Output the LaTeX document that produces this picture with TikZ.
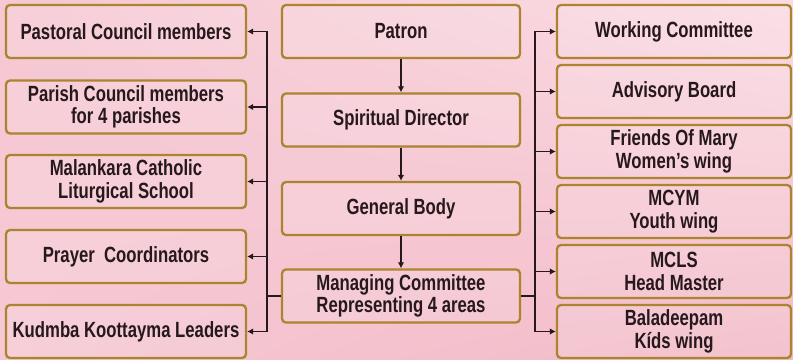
\documentclass[tikz,border=0pt]{standalone}
\usepackage{fontspec}
\usepackage{tikz}
\usetikzlibrary{arrows.meta,shadings}
\newfontfamily\boxfont{Liberation Sans Bold}[FakeStretch=0.76]
\definecolor{boxgold}{RGB}{172,132,48}
\definecolor{inkdark}{RGB}{38,24,28}
\definecolor{bgpinkA}{RGB}{242,186,199}
\definecolor{bgpinkB}{RGB}{251,220,228}
\definecolor{bgpinkC}{RGB}{245,200,211}

\begin{document}
\begin{tikzpicture}[x=1pt,y=-1pt,
    orgbox/.style={draw=boxgold, line width=2.3pt, rounded corners=4pt,
      fill=white, fill opacity=0.13, text opacity=1, text=inkdark,
      minimum height=53pt, inner sep=1pt, align=center,
      font=\boxfont\fontsize{22}{22.5}\selectfont},
    leftbox/.style={orgbox, minimum width=240pt},
    midbox/.style={orgbox, minimum width=238pt},
    rightbox/.style={orgbox, minimum width=234pt},
    arr/.style={draw=inkdark, line width=1.8pt, -{Latex[length=6pt,width=6.5pt]}},
    bus/.style={draw=inkdark, line width=1.8pt}]
% background
\shade[upper left=bgpinkC, upper right=bgpinkB, lower left=bgpinkC, lower right=bgpinkA]
  (0,0) rectangle (793,359);
\useasboundingbox (0,0) rectangle (793,359);

% centre column
\node[midbox] (patron)   at (401,31.5)  {Patron};
\node[midbox] (director) at (401,120)   {Spiritual Director};
\node[midbox] (general)  at (401,208.5) {General Body};
\node[midbox] (managing) at (401,296)   {Managing Committee\\Representing 4 areas};

% left column
\node[leftbox] (pastoral) at (126,31.5)  {Pastoral Council members};
\node[leftbox] (parish)   at (126,107)   {Parish Council members\\for 4 parishes};
\node[leftbox] (school)   at (126,181.5) {Malankara Catholic\\Liturgical School};
\node[leftbox] (prayer)   at (126,256.5) {Prayer\ \ Coordinators};
\node[leftbox] (kudmba)   at (126,331.5) {Kudmba Koottayma Leaders};

% right column
\node[rightbox] (working)  at (674,31.5)  {Working Committee};
\node[rightbox] (advisory) at (674,91.5)  {Advisory Board};
\node[rightbox] (friends)  at (674,151.5) {Friends Of Mary\\Women’s wing};
\node[rightbox] (mcym)     at (674,211.5) {MCYM\\Youth wing};
\node[rightbox] (mcls)     at (674,271.5) {MCLS\\Head Master};
\node[rightbox] (bala)     at (674,331.5) {Baladeepam\\Kíds wing};

% down the middle
\draw[arr] (patron) -- (director);
\draw[arr] (director) -- (general);
\draw[arr] (general) -- (managing);

% buses
\coordinate (lbus) at (267,296);
\coordinate (rbus) at (535,296);
\draw[bus] (managing.west) -- (lbus);
\draw[bus] (managing.east) -- (rbus);
\foreach \n in {pastoral,parish,school,prayer,kudmba}
  \draw[arr] (lbus) |- (\n.east);
\foreach \n in {working,advisory,friends,mcym,mcls,bala}
  \draw[arr] (rbus) |- (\n.west);
\end{tikzpicture}
\end{document}
